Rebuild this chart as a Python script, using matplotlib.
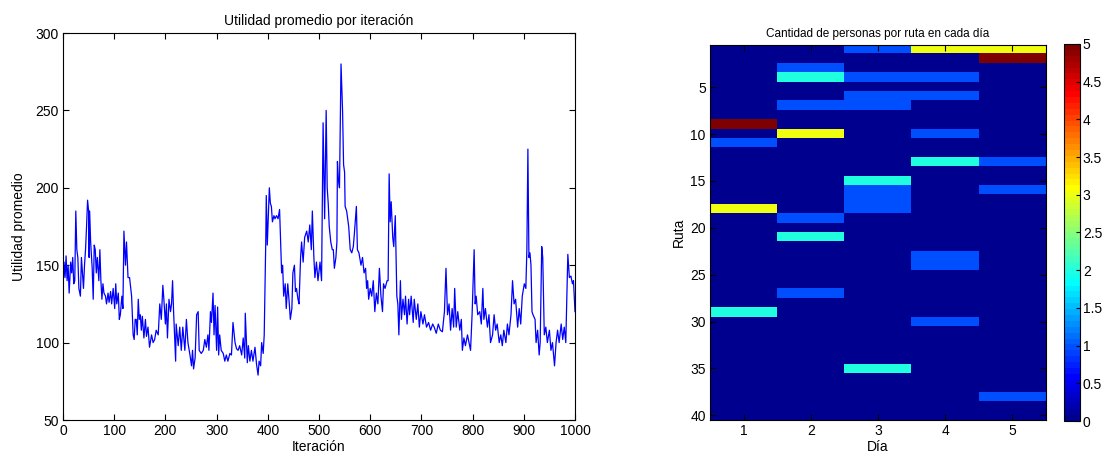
import numpy as np
import matplotlib
matplotlib.use("Agg")
import matplotlib.pyplot as plt
from matplotlib.colors import Normalize, ListedColormap

plt.rcParams['font.family'] = ['Liberation Sans', 'DejaVu Sans']

# ---------------- Data: utilidad promedio por iteración ----------------
iteracion = [
    0, 2, 4, 6, 8, 10, 12, 15, 17, 19, 21, 23, 25, 27, 29, 31, 34, 36, 38, 40,
    42, 44, 46, 48, 50, 51, 52, 54, 57, 59, 61, 63, 65, 67, 70, 72, 74, 76, 78, 80,
    83, 85, 88, 90, 93, 95, 98, 101, 103, 105, 108, 110, 112, 115, 117, 119, 120, 122, 124, 127,
    130, 134, 137, 139, 141, 143, 145, 147, 149, 151, 153, 155, 158, 161, 163, 166, 169, 173, 176, 179,
    182, 186, 189, 192, 195, 197, 200, 202, 204, 207, 210, 212, 214, 216, 220, 221, 225, 228, 231, 234,
    238, 241, 244, 248, 251, 253, 255, 258, 261, 264, 266, 270, 274, 277, 280, 283, 285, 288, 290, 293,
    295, 297, 300, 302, 304, 306, 309, 313, 316, 319, 322, 326, 329, 332, 336, 339, 342, 345, 349, 352,
    355, 356, 360, 362, 365, 368, 371, 375, 378, 381, 383, 386, 388, 391, 393, 396, 397, 399, 403, 405,
    407, 409, 412, 414, 417, 420, 423, 427, 429, 431, 434, 436, 439, 442, 444, 447, 449, 452, 454, 456,
    459, 461, 464, 466, 469, 472, 476, 479, 482, 485, 487, 490, 492, 495, 498, 502, 505, 508, 511, 514,
    516, 518, 520, 523, 526, 528, 530, 533, 535, 536, 538, 540, 543, 546, 548, 550, 551, 554, 558, 561,
    564, 567, 569, 573, 575, 578, 582, 585, 588, 591, 593, 595, 597, 600, 603, 606, 609, 612, 615, 618,
    621, 624, 626, 629, 633, 635, 637, 639, 641, 644, 646, 649, 652, 654, 656, 659, 661, 664, 667, 669,
    672, 675, 677, 680, 684, 686, 690, 693, 696, 699, 703, 706, 710, 714, 718, 722, 725, 729, 733, 737,
    741, 745, 748, 751, 754, 757, 760, 763, 765, 768, 771, 775, 778, 780, 783, 786, 790, 793, 796, 799,
    803, 805, 807, 810, 814, 817, 820, 822, 825, 829, 832, 835, 839, 842, 845, 848, 852, 855, 858, 861,
    865, 868, 871, 875, 878, 881, 884, 888, 891, 894, 897, 901, 904, 906, 908, 910, 912, 914, 916, 918,
    922, 924, 927, 930, 932, 935, 937, 940, 943, 946, 950, 953, 956, 960, 963, 966, 969, 973, 976, 979,
    982, 986, 989, 992, 995, 997, 1000,
]
utilidad = [
    135, 152, 142, 156, 140, 150, 132, 152, 145, 155, 138, 140, 185, 160, 155, 135, 130, 155, 145, 135,
    150, 160, 175, 192, 185, 155, 185, 165, 148, 128, 163, 160, 145, 155, 140, 160, 140, 128, 138, 132,
    130, 125, 132, 126, 133, 125, 135, 122, 138, 125, 132, 115, 118, 130, 122, 172, 165, 150, 165, 142,
    142, 130, 105, 102, 115, 115, 105, 128, 115, 118, 108, 117, 103, 115, 104, 110, 97, 105, 100, 102,
    108, 105, 125, 115, 137, 128, 112, 125, 103, 128, 120, 125, 140, 120, 88, 112, 98, 110, 95, 110,
    95, 115, 100, 92, 85, 95, 83, 90, 118, 120, 95, 93, 95, 102, 97, 105, 95, 120, 113, 132,
    105, 124, 95, 123, 92, 105, 95, 93, 88, 92, 88, 93, 92, 113, 100, 96, 95, 98, 92, 103,
    90, 119, 87, 98, 88, 95, 88, 97, 86, 79, 88, 85, 100, 93, 105, 165, 195, 163, 200, 190,
    188, 178, 182, 180, 182, 180, 186, 145, 150, 130, 138, 122, 138, 125, 115, 122, 145, 150, 133, 135,
    128, 125, 155, 165, 152, 168, 172, 165, 176, 160, 185, 155, 142, 152, 140, 152, 140, 242, 180, 250,
    200, 190, 175, 165, 160, 160, 148, 155, 165, 217, 205, 200, 280, 250, 215, 210, 188, 185, 175, 160,
    158, 162, 170, 188, 160, 158, 150, 155, 145, 148, 135, 140, 128, 135, 130, 140, 120, 132, 125, 148,
    130, 120, 138, 135, 140, 140, 209, 178, 191, 168, 162, 182, 130, 125, 105, 140, 115, 128, 118, 130,
    112, 128, 118, 130, 113, 128, 115, 125, 110, 120, 112, 118, 110, 113, 108, 112, 110, 106, 112, 108,
    107, 120, 148, 118, 125, 108, 122, 110, 135, 110, 120, 108, 115, 95, 103, 98, 105, 100, 95, 118,
    160, 125, 130, 118, 120, 112, 135, 115, 122, 110, 118, 100, 105, 118, 108, 112, 100, 105, 98, 108,
    100, 112, 105, 118, 140, 125, 128, 110, 122, 112, 130, 138, 135, 160, 225, 155, 158, 150, 120, 118,
    115, 100, 108, 92, 100, 162, 155, 105, 110, 100, 108, 95, 100, 85, 100, 108, 100, 112, 102, 110,
    100, 157, 142, 143, 138, 140, 120,
]

# ---------------- Data: cantidad de personas por ruta (40 rutas x 5 días) ----------------
rutas = list(range(1, 41))
dias = [1, 2, 3, 4, 5]
# personas en cada ruta, listadas por día (ruta 1 ... ruta 40)
dia1 = [0]*8 + [5, 0, 1] + [0]*6 + [3] + [0]*10 + [2] + [0]*11
dia2 = [0, 0, 1, 2, 0, 0, 1, 0, 0, 3] + [0]*8 + [1, 0, 2] + [0]*5 + [1] + [0]*13
dia3 = [1, 0, 0, 1, 0, 1, 1] + [0]*7 + [2, 1, 1, 1] + [0]*16 + [2] + [0]*5
dia4 = [3, 0, 0, 1, 0, 1, 0, 0, 0, 1, 0, 0, 2] + [0]*9 + [1, 1] + [0]*5 + [1] + [0]*10
dia5 = [3, 5] + [0]*10 + [1, 0, 0, 1] + [0]*21 + [1] + [0]*2
cbar_ticks = [0, 0.5, 1, 1.5, 2, 2.5, 3, 3.5, 4, 4.5, 5]


def matlab_jet(m=64):
    """MATLAB's classic jet colormap (m levels)."""
    n = int(np.ceil(m / 4))
    u = np.concatenate([np.arange(1, n + 1) / n, np.ones(n - 1), np.arange(n, 0, -1) / n])
    g = int(np.ceil(n / 2)) - (1 if m % 4 == 1 else 0) + np.arange(1, len(u) + 1)
    r = g + n
    b = g - n
    J = np.zeros((m, 3))
    for ch, idx in ((0, r), (1, g), (2, b)):
        ok = (idx >= 1) & (idx <= m)
        J[idx[ok] - 1, ch] = u[ok]
    return ListedColormap(J)


W, H = 1112, 461
fig = plt.figure(figsize=(W/100, H/100), dpi=100)

def rect(x0, y0, x1, y1):
    return [x0/W, 1 - y1/H, (x1-x0)/W, (y1-y0)/H]

FS = 10
# ---------------- Left: line plot ----------------
ax1 = fig.add_axes(rect(63, 33, 575, 420))
ax1.plot(iteracion, utilidad, color=(0, 0, 1), lw=0.9)
ax1.set_xlim(0, 1000)
ax1.set_ylim(50, 300)
ax1.set_xticks(range(0, 1001, 100))
ax1.set_yticks(range(50, 301, 50))
ax1.tick_params(direction='in', top=True, right=True, labelsize=FS, length=4, width=0.8, pad=3)
ax1.set_title('Utilidad promedio por iteración', fontsize=FS, pad=6)
ax1.set_xlabel('Iteración', fontsize=FS, labelpad=1)
ax1.set_ylabel('Utilidad promedio', fontsize=FS, labelpad=7)
for s in ax1.spines.values():
    s.set_linewidth(0.8)

# ---------------- Right: heatmap ----------------
mat = np.array([dia1, dia2, dia3, dia4, dia5]).T
cmap = matlab_jet(64)
norm = Normalize(vmin=0, vmax=5)
ax2 = fig.add_axes(rect(710, 45, 1046, 420))
im = ax2.imshow(mat, cmap=cmap, norm=norm, aspect='auto', interpolation='nearest',
                extent=[dias[0]-0.5, dias[-1]+0.5, rutas[-1]+0.5, rutas[0]-0.5])
ax2.set_xlim(0.5, 5.5)
ax2.set_ylim(40.5, 0.5)
ax2.set_xticks(dias)
ax2.set_yticks(range(5, 41, 5))
ax2.tick_params(direction='in', top=True, right=True, labelsize=FS, length=4, width=0.8, pad=3)
ax2.set_title('Cantidad de personas por ruta en cada día', fontsize=8.5, pad=6)
ax2.set_xlabel('Día', fontsize=FS, labelpad=1)
ax2.set_ylabel('Ruta', fontsize=FS, labelpad=3)
for s in ax2.spines.values():
    s.set_linewidth(0.8)

cax = fig.add_axes(rect(1064, 44, 1080, 421))
cb = fig.colorbar(im, cax=cax, ticks=cbar_ticks)
cb.ax.set_yticklabels([('%g' % t) for t in cbar_ticks])
cb.ax.tick_params(direction='in', labelsize=FS, length=3, width=0.8, pad=2)
cb.outline.set_linewidth(0.8)

fig.savefig('out.png', dpi=100)
